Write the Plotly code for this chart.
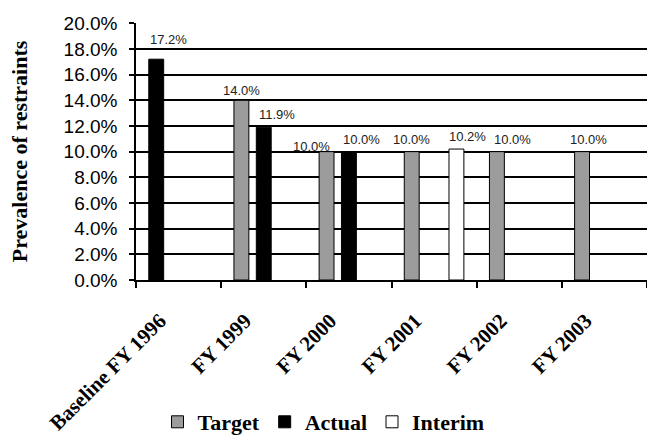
import plotly.graph_objects as go

# Restraint prevalence by fiscal year
categories = ["Baseline FY 1996", "FY 1999", "FY 2000", "FY 2001", "FY 2002", "FY 2003"]
target = [None, 14.0, 10.0, 10.0, 10.0, 10.0]
actual = [17.2, 11.9, 10.0, None, None, None]
interim = [None, None, None, 10.2, None, None]
y_ticks = [0, 2, 4, 6, 8, 10, 12, 14, 16, 18, 20]

BAR_W = 0.175
SLOT1, SLOT2, SLOT3 = -0.35, -0.0875, 0.175
# the baseline actual value sits in the first slot of its group
actual_offsets = [SLOT1] + [SLOT2] * (len(categories) - 1)
target_offsets = [SLOT1] * len(categories)
interim_offsets = [SLOT3] * len(categories)

# hand placement of the value labels (pixels, relative to the bar top centre)
target_label_dx = [0, 0, -15, 0, 16, 6]
target_label_dy = [10, 10, 5, 12, 12, 12]
actual_label_dx = [12, 13, 13, 0, 0, 0]
actual_label_dy = [20, 13, 12, 12, 12, 12]
interim_label_dx = [0, 0, 0, 11, 0, 0]
interim_label_dy = [13, 13, 13, 13, 13, 13]

label_font = dict(family="Liberation Sans, Arial", size=13, color="#222")
serif_bold = "Liberation Serif, Times New Roman"


def bar(name, vals, offsets, color):
    return go.Bar(
        name="<b>%s</b>" % name, x=categories, y=vals, width=BAR_W, offset=offsets,
        marker=dict(color=color, line=dict(color="black", width=1)),
        cliponaxis=False,
    )


def value_labels(vals, offsets, dxs, dys):
    out = []
    for i, (v, off, dx, dy) in enumerate(zip(vals, offsets, dxs, dys)):
        if v is None:
            continue
        out.append(dict(
            x=i + off + BAR_W / 2, y=v, xref="x", yref="y",
            text="%.1f%%" % v, showarrow=False, font=label_font,
            xanchor="center", yanchor="middle", xshift=dx, yshift=dy,
        ))
    return out


fig = go.Figure()
fig.add_trace(bar("Target", target, target_offsets, "#9c9c9c"))
fig.add_trace(bar("Actual", actual, actual_offsets, "black"))
fig.add_trace(bar("Interim", interim, interim_offsets, "white"))

annotations = (
    value_labels(target, target_offsets, target_label_dx, target_label_dy)
    + value_labels(actual, actual_offsets, actual_label_dx, actual_label_dy)
    + value_labels(interim, interim_offsets, interim_label_dx, interim_label_dy)
)

fig.update_layout(
    width=647, height=443,
    margin=dict(l=136, r=0, t=23, b=163),
    paper_bgcolor="white", plot_bgcolor="white",
    barmode="overlay",
    showlegend=True,
    annotations=annotations,
    legend=dict(
        orientation="h", xref="container", yref="container",
        x=0.5, xanchor="center", y=0.0, yanchor="bottom",
        font=dict(family=serif_bold, size=22, color="black"),
        itemwidth=30, tracegroupgap=0, itemclick=False,
    ),
    xaxis=dict(
        type="category", tickangle=-45, tickson="boundaries",
        ticks="outside", ticklen=6, tickcolor="black", tickwidth=1.5,
        showline=True, linecolor="black", linewidth=1.5,
        showgrid=False, automargin=False,
        tickfont=dict(family=serif_bold, size=21, color="black"),
        tickprefix="<b>", ticksuffix="</b>" + "\u00a0" * 5,
        range=[-0.5, 5.5],
    ),
    yaxis=dict(
        range=[0, 20.02], tickvals=y_ticks,
        ticktext=["%.1f%%" % v for v in y_ticks],
        ticks="outside", ticklen=5, tickcolor="black", tickwidth=1.5,
        ticklabelstandoff=8,
        showline=True, linecolor="black", linewidth=1.5,
        showgrid=True, gridcolor="black", gridwidth=1.5,
        zeroline=False, automargin=False,
        tickfont=dict(family="Liberation Sans, Arial", size=19, color="black"),
        title=dict(text="<b>Prevalence of restraints</b>", standoff=30,
                   font=dict(family=serif_bold, size=22, color="black")),
    ),
)

fig.write_html("out.html")
